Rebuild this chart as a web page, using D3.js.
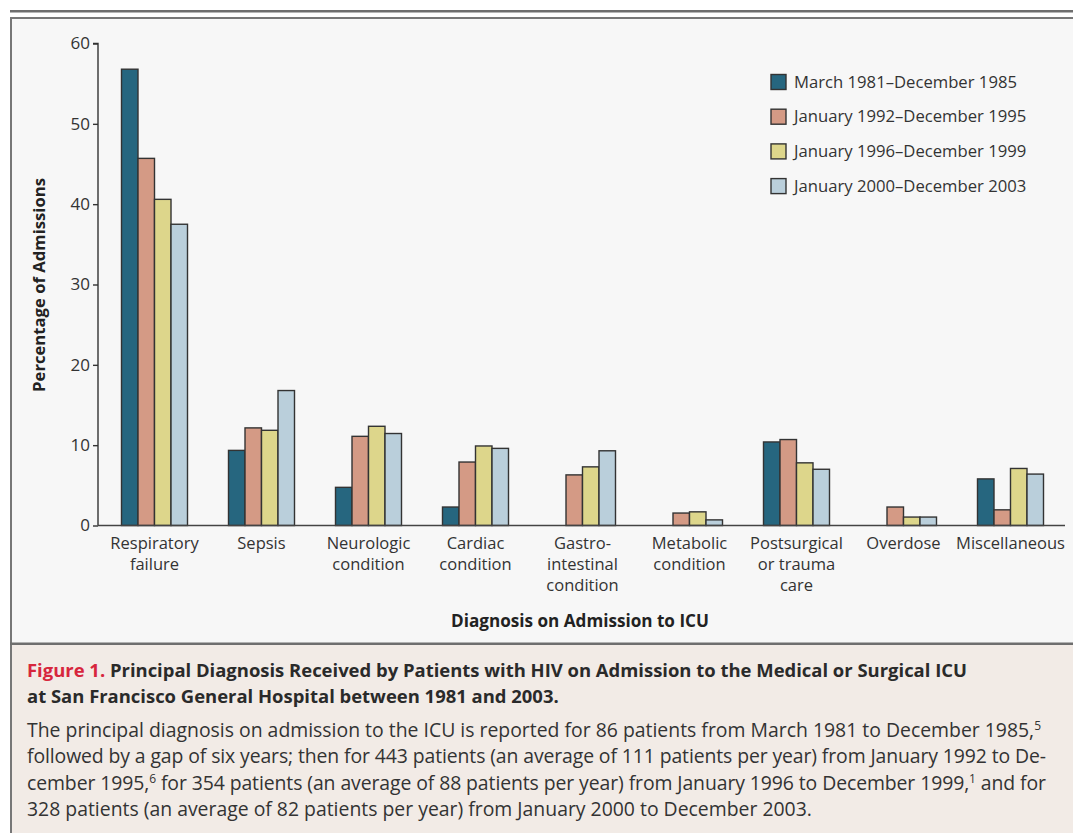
<!DOCTYPE html>
<html><head><meta charset="utf-8">
<script src="https://cdn.jsdelivr.net/npm/d3@7"></script>
<style>
html,body{margin:0;padding:0;background:#fff;}
svg{display:block;}
text{font-family:"Open Sans",Lato,sans-serif;}
</style></head>
<body>
<svg id="chart" width="1073" height="835"></svg>
<script>
const categories = [
  ["Respiratory","failure"],
  ["Sepsis"],
  ["Neurologic","condition"],
  ["Cardiac","condition"],
  ["Gastro-","intestinal","condition"],
  ["Metabolic","condition"],
  ["Postsurgical","or trauma","care"],
  ["Overdose"],
  ["Miscellaneous"]
];
const seriesNames = [
  "March 1981\u2013December 1985",
  "January 1992\u2013December 1995",
  "January 1996\u2013December 1999",
  "January 2000\u2013December 2003"
];
const s1981 = [56.8, 9.35, 4.75, 2.3, 0, 0, 10.4, 0, 5.8];
const s1992 = [45.7, 12.15, 11.1, 7.9, 6.3, 1.55, 10.7, 2.3, 1.95];
const s1996 = [40.6, 11.85, 12.35, 9.9, 7.3, 1.7, 7.8, 1.05, 7.1];
const s2000 = [37.5, 16.8, 11.45, 9.6, 9.3, 0.7, 7.0, 1.05, 6.4];
const yTicks = [0, 10, 20, 30, 40, 50, 60];
const colors = ["#26667f", "#d49a85", "#ddd68b", "#bacfdb"];

const series = [s1981, s1992, s1996, s2000];
const svg = d3.select("#chart");

// scale a text's font size so its rendered width matches a target width
function fit(sel, target) {
  const fs = parseFloat(sel.attr("font-size"));
  const w = sel.node().getComputedTextLength();
  const nf = fs * target / w;
  sel.attr("font-size", nf.toFixed(2));
  return nf;
}

// frame
svg.append("rect").attr("x",0).attr("y",0).attr("width",1073).attr("height",835).attr("fill","#fff");
svg.append("rect").attr("x",10).attr("y",10).attr("width",1063).attr("height",2.5).attr("fill","#6e6e6e");
svg.append("rect").attr("x",11).attr("y",18).attr("width",1062).attr("height",626).attr("fill","#f7f7f7");
svg.append("rect").attr("x",11).attr("y",644).attr("width",1062).attr("height",189).attr("fill","#f2ebe6");
svg.append("rect").attr("x",10).attr("y",17).attr("width",1063).attr("height",2).attr("fill","#777");
svg.append("rect").attr("x",10).attr("y",17).attr("width",2).attr("height",816).attr("fill","#777");
svg.append("rect").attr("x",10).attr("y",642.5).attr("width",1063).attr("height",2.5).attr("fill","#6e6e6e");

const y = d3.scaleLinear().domain([0,60]).range([525.5, 43.5]);
const x0 = d3.scaleBand().domain(d3.range(categories.length)).range([101,1064]).padding(0);
const groupW = 66;
const x1 = d3.scaleBand().domain(d3.range(4)).range([0,groupW]).padding(0);

// bars
const g = svg.append("g");
series.forEach((s, si) => {
  g.selectAll(null).data(s.map((v,i)=>({v,i}))).enter()
    .filter(d => d.v > 0)
    .append("rect")
    .attr("x", d => x0(d.i) + (x0.bandwidth()-groupW)/2 + x1(si))
    .attr("y", d => y(d.v))
    .attr("width", x1.bandwidth())
    .attr("height", d => y(0) - y(d.v))
    .attr("fill", colors[si])
    .attr("stroke", "#333")
    .attr("stroke-width", 1.4);
});

// y axis
const yAxis = d3.axisLeft(y).tickValues(yTicks).tickSize(5).tickPadding(3);
const ya = svg.append("g").attr("transform","translate(98,0)").call(yAxis);
ya.attr("font-family", null).attr("font-size", null);
ya.select(".domain").attr("stroke","#333").attr("stroke-width",1.4).attr("d","M-5,"+y(60)+"H0V"+y(0));
ya.selectAll(".tick line").attr("stroke","#333").attr("stroke-width",1.4);
ya.selectAll(".tick text").attr("font-size",16).attr("fill","#333");
const t60 = ya.selectAll(".tick text").filter(d => d === 60);
const tickFs = fit(t60, 19.5);
ya.selectAll(".tick text").attr("font-size", tickFs.toFixed(2));

// x axis line
svg.append("line").attr("x1",98).attr("x2",1065).attr("y1",y(0)).attr("y2",y(0))
  .attr("stroke","#444").attr("stroke-width",1.6);

// x labels
const xl = svg.append("g");
const xTexts = [];
categories.forEach((lines,i) => {
  const t = xl.append("text").attr("text-anchor","middle")
    .attr("font-size",16).attr("fill","#333");
  lines.forEach((ln,k) => {
    t.append("tspan").attr("x", x0(i)+x0.bandwidth()/2).attr("y", 549 + k*21).text(ln);
  });
  xTexts.push(t);
});
// size from "Miscellaneous"
const misc = xl.append("text").attr("font-size",16).text(categories[8][0]);
const xFs = fit(misc, 109);
misc.remove();
xTexts.forEach(t => t.attr("font-size", xFs.toFixed(2)));

// axis titles
const yt = svg.append("text").attr("transform","translate(45,285) rotate(-90)").attr("text-anchor","middle")
  .attr("font-size",16).attr("font-weight","bold").attr("fill","#222").text("Percentage of Admissions");
fit(yt, 214);
const xt = svg.append("text").attr("x",580).attr("y",627).attr("text-anchor","middle")
  .attr("font-size",16).attr("font-weight","bold").attr("fill","#222").text("Diagnosis on Admission to ICU");
fit(xt, 258);

// legend
const lg = svg.append("g");
const lTexts = [];
seriesNames.forEach((n,i) => {
  const yy = 82 + i*34.7;
  lg.append("rect").attr("x",771).attr("y",yy-7.5).attr("width",15).attr("height",15)
    .attr("fill",colors[i]).attr("stroke","#333").attr("stroke-width",1.4);
  lTexts.push(lg.append("text").attr("x",794).attr("y",yy+5.5).attr("font-size",16).attr("fill","#333").text(n));
});
const lFs = fit(lTexts[0], 223);
lTexts.forEach(t => t.attr("font-size", lFs.toFixed(2)));

// caption
const cap1 = svg.append("text").attr("x",27).attr("y",677).attr("font-size",17.5).attr("font-weight","bold").attr("fill","#2a2a2a");
cap1.append("tspan").attr("fill","#d7263d").text("Figure 1. ");
cap1.append("tspan").text("Principal Diagnosis Received by Patients with HIV on Admission to the Medical or Surgical ICU");
const capFs = fit(cap1, 940);
svg.append("text").attr("x",27).attr("y",703).attr("font-size",capFs.toFixed(2)).attr("font-weight","bold").attr("fill","#2a2a2a")
  .text("at San Francisco General Hospital between 1981 and 2003.");

const body = [
  [["The principal diagnosis on admission to the ICU is reported for 86 patients from March 1981 to December 1985,",""],["5","sup"]],
  [["followed by a gap of six years; then for 443 patients (an average of 111 patients per year) from January 1992 to De-",""]],
  [["cember 1995,",""],["6","sup"],[" for 354 patients (an average of 88 patients per year) from January 1996 to December 1999,",""],["1","sup"],[" and for",""]],
  [["328 patients (an average of 82 patients per year) from January 2000 to December 2003.",""]]
];
const bodyTexts = body.map((parts,k) => {
  const t = svg.append("text").attr("x",27).attr("y",737 + k*26.3).attr("font-size",17).attr("fill","#333");
  let prevSup = false;
  parts.forEach(([txt,kind]) => {
    const ts = t.append("tspan").text(txt);
    if (kind === "sup") { ts.attr("font-size",11).attr("dy",-7); prevSup = true; }
    else if (prevSup) { ts.attr("dy",7); prevSup = false; }
  });
  return t;
});
const bFs = fit(bodyTexts[3], 785);
bodyTexts.forEach((t,k) => {
  t.attr("font-size", bFs.toFixed(2));
  t.selectAll("tspan").filter(function(){ return d3.select(this).attr("font-size"); })
    .attr("font-size", (bFs*0.62).toFixed(2));
  if (k < 3) t.attr("textLength", k === 0 ? 1014 : 1019).attr("lengthAdjust","spacing");
});
</script>
</body></html>
